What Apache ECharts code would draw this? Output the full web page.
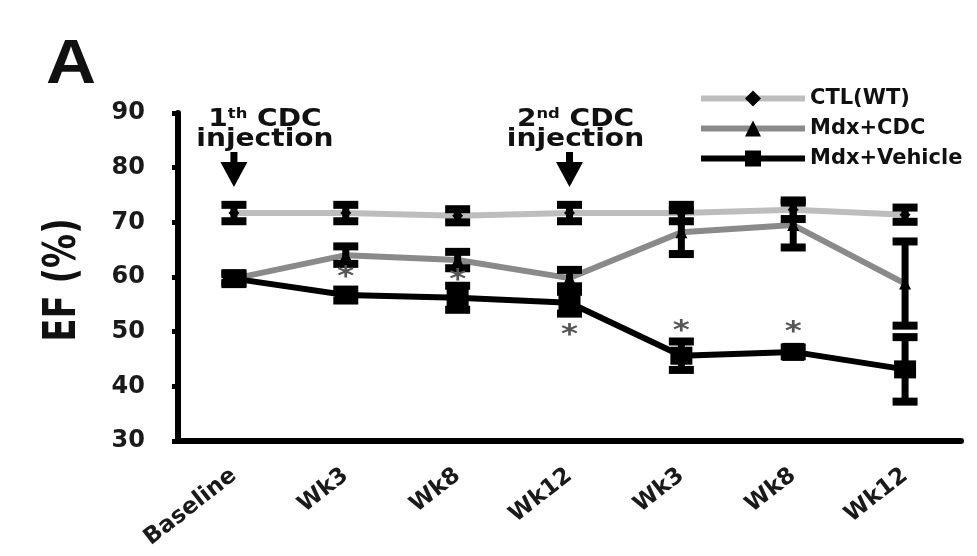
<!DOCTYPE html>
<html><head><meta charset="utf-8">
<script src="https://cdn.jsdelivr.net/npm/echarts@6/dist/echarts.min.js"></script>
<style>html,body{margin:0;padding:0;background:#fff}#c{width:977px;height:556px}</style>
</head><body><div id="c"></div>
<script>
// ---- data ----
const categories = ['Baseline', 'Wk3', 'Wk8', 'Wk12', 'Wk3', 'Wk8', 'Wk12'];
const seriesNames = ['CTL(WT)', 'Mdx+CDC', 'Mdx+Vehicle'];
const ctlMean = [71.7, 71.7, 71.2, 71.7, 71.7, 72.3, 71.4];
const ctlErr  = [1.5, 1.5, 1.2, 1.5, 1.5, 1.7, 1.3];
const cdcMean = [59.7, 64.0, 63.1, 59.8, 68.2, 69.5, 58.8];
const cdcErr  = [0.8, 1.6, 1.5, 1.5, 4.0, 4.1, 7.7];
const vehMean = [59.7, 56.7, 56.2, 55.3, 45.6, 46.3, 43.1];
const vehErr  = [1.0, 1.0, 2.2, 2.0, 2.6, 0.8, 5.9];
const yTicks = [30, 40, 50, 60, 70, 80, 90];
// significance marks: [series index (1=CDC,2=Vehicle), category index, side (-1 below, +1 above)]
const sigMarks = [[1, 1, -1], [1, 2, -1], [2, 3, -1], [2, 4, 1], [2, 5, 1]];
// injection annotations
const injIdx = [0, 3];
const injOrd = ['1', '2'];
const injSup = ['th', 'nd'];

// ---- styles ----
const FONT = 'DejaVu Sans';
const lineColors = ['#bdbdbd', '#8a8a8a', '#000000'];
const symbols = ['diamond', 'triangle', 'rect'];
const symbolSizes = [11, 12, [22, 18]];
const sigGap = [10, 9, 19, 15, 20];
const injDx = [31, 6];
const yMin = yTicks[0], yMax = yTicks[yTicks.length - 1];

const means = [ctlMean, cdcMean, vehMean];
const errs = [ctlErr, cdcErr, vehErr];

function errRender(params, api) {
  const x = api.value(0), m = api.value(1), e = api.value(2);
  const top = api.coord([x, m + e]), bot = api.coord([x, m - e]);
  const hw = 12.5, th = 8, sw = 7;
  return { type: 'group', children: [
    { type: 'rect', shape: { x: top[0] - sw / 2, y: top[1], width: sw, height: bot[1] - top[1] }, style: { fill: '#000' } },
    { type: 'rect', shape: { x: top[0] - hw, y: top[1] - th / 2, width: 2 * hw, height: th }, style: { fill: '#000' } },
    { type: 'rect', shape: { x: bot[0] - hw, y: bot[1] - th / 2, width: 2 * hw, height: th }, style: { fill: '#000' } }
  ]};
}

function sigRender(params, api) {
  const i = params.dataIndex;
  const x = api.value(0), m = api.value(1), e = api.value(2), side = api.value(3);
  const p = api.coord([x, m + side * e]);
  const y = p[1] - side * (sigGap[i] - 1) + 5;
  return { type: 'text', x: p[0], y: y, scaleX: 1.25,
    style: { text: '*', font: 'bold 26px ' + FONT, fill: '#555', align: 'center', verticalAlign: 'middle' } };
}

function injRender(params, api) {
  const i = params.dataIndex;
  const p = api.coord([api.value(0), yMax]);
  const cx = p[0], top = p[1];
  return { type: 'group', children: [
    { type: 'text', x: cx + injDx[i], y: top - 3, scaleX: 1.17,
      style: {
        text: '{n|' + injOrd[i] + '}{s|' + injSup[i] + '}{n| CDC}\n{n|injection}',
        align: 'center', verticalAlign: 'top',
        rich: {
          n: { fontFamily: FONT, fontWeight: 'bold', fontSize: 24, lineHeight: 20, fill: '#111' },
          s: { fontFamily: FONT, fontWeight: 'bold', fontSize: 14, lineHeight: 8, padding: [0, 0, 12, 0], fill: '#111' }
        }
      } },
    { type: 'rect', shape: { x: cx - 3.5, y: top + 39, width: 7, height: 12 }, style: { fill: '#000' } },
    { type: 'polygon', shape: { points: [[cx - 13.5, top + 49], [cx + 13.5, top + 49], [cx, top + 74]] }, style: { fill: '#000' } }
  ]};
}

const series = [];
for (let s = 0; s < 3; s++) {
  series.push({
    name: seriesNames[s], type: 'line', data: means[s], z: 2 + s,
    symbol: symbols[s], symbolSize: symbolSizes[s], showAllSymbol: true,
    lineStyle: { color: lineColors[s], width: 6 },
    itemStyle: { color: '#000' },
    emphasis: { disabled: true }, animation: false
  });
}
for (let s = 0; s < 3; s++) {
  series.push({
    type: 'custom', renderItem: errRender, z: 10, animation: false, silent: true,
    data: means[s].map((m, i) => [i, m, errs[s][i]])
  });
}
series.push({
  type: 'custom', renderItem: sigRender, z: 11, animation: false, silent: true,
  data: sigMarks.map(d => [d[1], means[d[0]][d[1]], errs[d[0]][d[1]], d[2]])
});
series.push({
  type: 'custom', renderItem: injRender, z: 11, animation: false, silent: true, clip: false,
  data: injIdx.map(i => [i, yMax])
});

const chart = echarts.init(document.getElementById('c'), null, { renderer: 'canvas' });
chart.setOption({
  backgroundColor: '#ffffff',
  animation: false,
  grid: { left: 178, right: 16, top: 113, bottom: 115, outerBoundsMode: 'none', containLabel: false },
  legend: {
    data: seriesNames, orient: 'vertical', left: 698, top: 88, padding: 0,
    itemWidth: 104, itemHeight: 20, itemGap: 9,
    lineStyle: { width: 6 },
    textStyle: { fontFamily: FONT, fontWeight: 'bold', fontSize: 21, color: '#111' },
    selectedMode: false
  },
  xAxis: {
    type: 'category', data: categories, boundaryGap: true,
    axisLine: { lineStyle: { color: '#000', width: 6 } },
    axisTick: { alignWithLabel: true, length: 6, lineStyle: { color: '#000', width: 5 } },
    axisLabel: { rotate: 38, interval: 0, margin: 32, fontFamily: FONT, fontWeight: 'bold', fontSize: 23, color: '#1a1a1a' },
    splitLine: { show: false }
  },
  yAxis: {
    type: 'value', min: yMin, max: yMax, interval: 10,
    axisLine: { show: true, lineStyle: { color: '#000', width: 6 } },
    axisTick: { show: true, length: 6, lineStyle: { color: '#000', width: 5 } },
    axisLabel: { margin: 33, fontFamily: FONT, fontWeight: 'bold', fontSize: 24, color: '#1a1a1a' },
    splitLine: { show: false }
  },
  graphic: [
    { type: 'text', x: 71, y: 66, scaleX: 1.1, style: { text: 'A', font: 'bold 63px "Liberation Sans"', fill: '#111', align: 'center', verticalAlign: 'middle' } },
    { type: 'text', x: 64, y: 280, rotation: Math.PI / 2, scaleY: 1.3,
      style: { text: 'EF (%)', font: 'bold 34px ' + FONT, fill: '#111', align: 'center', verticalAlign: 'middle' } }
  ],
  series: series
});
</script>
</body></html>
